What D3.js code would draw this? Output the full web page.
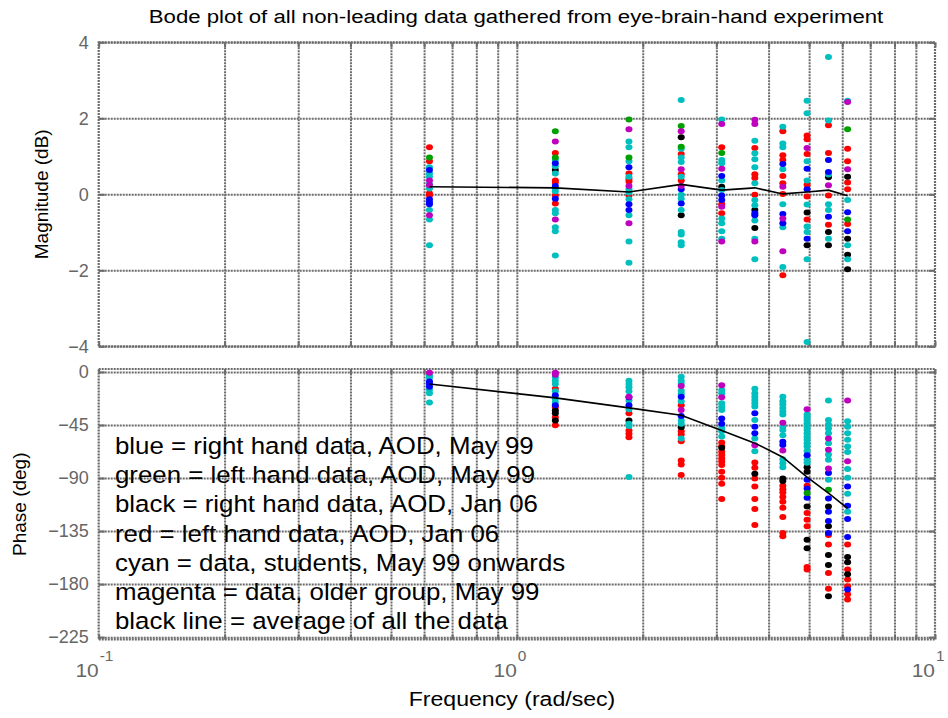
<!DOCTYPE html>
<html><head><meta charset="utf-8">
<script src="https://cdn.jsdelivr.net/npm/d3@7"></script>
<style>body{margin:0;background:#fff}svg{display:block}</style>
</head><body><svg id="c" width="948" height="718"></svg>
<script>
// ---------------- data ----------------
const titleText = "Bode plot of all non-leading data gathered from eye-brain-hand experiment";
const freqs = [0.618, 1.236, 1.854, 2.472, 3.09, 3.708, 4.326, 4.944, 5.562, 6.18];
const avgMag = [0.20, 0.17, 0.06, 0.26, 0.11, 0.17, 0.01, 0.06, 0.11, -0.04];
const avgPhase = [-10.2, -22, -30.5, -36.7, -49.7, -60.4, -72.3, -89.2, -102.8, -115.8];

// magnitude (dB): [frequency index, value]
const blueMag = [[0,0.64],[0,-0.13],[0,-0.20],[0,-0.26],[1,0.82],[1,0.22],[1,-0.12],[2,0.71],[2,-0.26],[2,-0.41],[3,0.13],[3,-0.24],[4,0.48],[4,-0.03],[4,-0.15],[5,-0.50],[5,-0.55],[6,0.80],[6,-0.52],[6,-0.76],[7,0.67],[7,0.13],[7,-1.17],[8,0.90],[8,0.59],[8,-0.59],[9,-0.47],[9,-0.97]];
const greenMag = [[0,0.97],[1,1.66],[1,0.97],[2,1.97],[2,0.97],[3,1.80],[3,1.25],[4,1.09],[9,1.71],[9,-0.66]];
const blackMag = [[1,0.64],[3,1.50],[3,-0.55],[4,0.20],[5,-0.41],[5,-0.89],[7,-0.48],[7,-1.34],[8,0.45],[8,-0.99],[8,-1.34],[9,0.46],[9,-1.17],[9,-1.59],[9,-1.97]];
const redMag = [[0,1.24],[0,0.87],[0,0.03],[0,-0.03],[1,1.09],[1,0.36],[1,0.31],[1,-0.03],[1,-0.24],[2,0.55],[2,0.40],[2,0.34],[2,-0.03],[3,1.06],[3,0.53],[3,0.36],[4,1.24],[4,-0.26],[4,-0.50],[5,1.22],[5,0.53],[5,0.43],[5,-0.01],[6,1.66],[6,1.03],[6,0.90],[6,0.48],[6,0.29],[6,0.01],[6,-2.13],[7,1.55],[7,1.45],[7,1.06],[7,0.25],[7,-0.06],[7,-0.66],[8,1.82],[8,1.09],[8,-0.03],[8,-0.80],[9,1.20],[9,0.87],[9,0.31],[9,0.13],[9,-0.78]];
const cyanMag = [[0,0.71],[0,0.55],[0,0.46],[0,0.27],[0,0.15],[0,-0.41],[0,-0.66],[0,-1.34],[1,0.90],[1,0.74],[1,0.55],[1,0.15],[1,0.08],[1,-0.41],[1,-0.50],[1,-0.87],[1,-0.97],[1,-1.61],[2,1.39],[2,1.24],[2,0.87],[2,0.46],[2,0.13],[2,0.05],[2,-0.13],[2,-0.55],[2,-1.24],[2,-1.80],[3,2.48],[3,1.20],[3,0.97],[3,0.85],[3,0.46],[3,-0.01],[3,-0.12],[3,-0.41],[3,-0.99],[3,-1.06],[3,-1.26],[3,-1.34],[4,1.97],[4,0.90],[4,0.82],[4,0.36],[4,0.11],[4,-0.64],[4,-0.76],[4,-0.97],[4,-1.17],[5,1.41],[5,1.08],[5,0.92],[5,0.71],[5,0.29],[5,-0.15],[5,-0.29],[5,-0.69],[5,-1.17],[5,-1.71],[6,1.78],[6,1.34],[6,1.24],[6,0.66],[6,-0.26],[6,-0.87],[6,-1.91],[7,2.46],[7,2.13],[7,0.87],[7,0.36],[7,-0.27],[7,-0.85],[7,-0.99],[7,-1.71],[7,-3.89],[8,3.61],[8,1.94],[8,0.52],[8,-0.26],[8,-0.41],[8,-1.17],[9,2.46],[9,-0.15],[9,-1.34],[9,-1.71]];
const magentaMag = [[0,0.36],[0,0.24],[0,-0.55],[1,1.39],[1,-0.66],[2,1.71],[2,0.22],[2,-0.76],[3,1.66],[3,0.66],[3,0.22],[4,1.85],[4,0.67],[4,-0.33],[4,-1.24],[5,1.96],[5,1.85],[5,-1.24],[6,0.20],[6,-0.64],[6,-1.50],[7,1.22],[8,0.24],[9,2.43],[9,0.66]];

// phase (deg): [frequency index, value]
const bluePhase = [[0,-8],[0,-10],[0,-12.5],[1,-19.8],[1,-28.3],[2,-21.5],[2,-28.3],[3,-21],[3,-37.3],[4,-39.6],[4,-44],[5,-35],[5,-46.4],[5,-52],[6,-59.3],[6,-62],[7,-70.6],[7,-91.5],[7,-98.8],[7,-106.7],[8,-85.8],[8,-107.3],[8,-118.6],[8,-126.5],[8,-136.7],[9,-97.2],[9,-113.5],[9,-124.8],[9,-140],[9,-184.6]];
const greenPhase = [[7,-102.8],[8,-100]];
const blackPhase = [[1,-32.8],[1,-35],[1,-41.3],[2,-41.3],[3,-46.9],[4,-64.4],[5,-86.4],[6,-90.4],[6,-92.6],[7,-80.8],[7,-84.7],[7,-114.1],[7,-142.3],[7,-149.6],[8,-114.1],[8,-131],[8,-155.3],[8,-163.7],[8,-190.3],[9,-157],[9,-161.5],[9,-171.7]];
const redPhase = [[1,-14.2],[1,-30],[1,-38.4],[1,-45.2],[2,-35],[2,-49.7],[2,-52.5],[2,-55.3],[3,-28.3],[3,-50.3],[3,-53.1],[3,-58.8],[3,-75.2],[3,-78.5],[3,-87.5],[4,-59.9],[4,-63],[4,-67.8],[4,-70.5],[4,-73.4],[4,-76],[4,-79],[4,-84.7],[4,-89.8],[4,-94.9],[4,-107.9],[5,-76.8],[5,-81.3],[5,-90.4],[5,-97.2],[5,-107.8],[5,-116.3],[5,-129.9],[6,-96.6],[6,-99.5],[6,-102.3],[6,-106],[6,-110.2],[6,-115.2],[6,-123.1],[6,-136.7],[6,-139.5],[7,-96.6],[7,-119.7],[7,-125.4],[7,-131],[7,-165.4],[7,-167.7],[8,-138.4],[8,-146.3],[8,-170.5],[8,-184],[9,-146.3],[9,-167.7],[9,-176.2],[9,-181.8],[9,-188.6],[9,-193.1]];
const cyanPhase = [[0,-2.8],[0,-5],[0,-15],[0,-18],[0,-26],[1,-4.5],[1,-7.4],[1,-10.2],[1,-16.4],[1,-22.6],[1,-25.4],[2,-7.4],[2,-10.2],[2,-13],[2,-16.4],[2,-24.3],[2,-31.6],[2,-44],[2,-45.8],[2,-89.2],[3,-4],[3,-7.4],[3,-10],[3,-15.9],[3,-18.5],[3,-24.9],[3,-41.3],[3,-44],[3,-56.5],[4,-15.3],[4,-18],[4,-26.6],[4,-29.5],[4,-32.2],[4,-47.5],[4,-50.3],[4,-54.8],[5,-14.2],[5,-18.1],[5,-21],[5,-23.8],[5,-26.5],[5,-29.4],[5,-40.7],[5,-56.5],[5,-67.2],[6,-21],[6,-24.9],[6,-27.5],[6,-30.5],[6,-33.5],[6,-36.2],[6,-46.5],[6,-49.2],[6,-53.7],[6,-74],[6,-77.5],[6,-80.8],[7,-36.2],[7,-38.5],[7,-40.7],[7,-43.5],[7,-46.4],[7,-49],[7,-52],[7,-55],[7,-57.6],[7,-60.5],[7,-63.3],[7,-67],[7,-74.6],[7,-77],[8,-24.3],[8,-40.7],[8,-44.6],[8,-48],[8,-52],[8,-60.4],[8,-70],[8,-74.6],[8,-91.5],[9,-41.8],[9,-46.4],[9,-52],[9,-57.6],[9,-63.3],[9,-68],[9,-82.4],[9,-89.8],[9,-103.3],[9,-118.6]];
const magentaPhase = [[0,-0.6],[1,-0.6],[1,-2.3],[2,-21],[3,-11.9],[3,-32.2],[4,-11.3],[4,-21.5],[5,-62.1],[6,-43],[6,-66.7],[7,-31.7],[8,-56.5],[8,-66.1],[8,-81.9],[9,-24.3],[9,-75.7]];

const legendLines = [
  "blue = right hand data, AOD, May 99",
  "green = left hand data, AOD, May 99",
  "black = right hand data, AOD, Jan 06",
  "red = left hand data, AOD, Jan 06",
  "cyan = data, students, May 99 onwards",
  "magenta = data, older group, May 99",
  "black line = average of all the data"
];
const magTicks = [-4, -2, 0, 2, 4];
const phaseTicks = [0, -45, -90, -135, -180, -225];
const decadeExps = [-1, 0, 1];
const magLabel = "Magnitude (dB)";
const phaseLabel = "Phase (deg)";
const xLabel = "Frequency  (rad/sec)";

// ---------------- drawing ----------------
const svg = d3.select("#c");
const FONT = "'Liberation Sans', Arial, Helvetica, sans-serif";
const L = 98.7, R = 935;
const magTop = 42.3, magBot = 346.3;
const phTop = 369, phBot = 639.5;
const x = d3.scaleLog().domain([0.1, 10]).range([L, R]);
const yM = d3.scaleLinear().domain([-4, 4]).range([magBot, magTop]);
const yP = d3.scaleLinear().domain([-227, 2.5]).range([phBot, phTop]);

const gridFreqs = [];
[0.1, 1].forEach(d => { for (let k = 1; k <= 9; k++) gridFreqs.push(d * k); });
gridFreqs.push(10);

const GRID = "#6c6c6c";
function styleGrid(g) {
  g.select(".domain").remove();
  g.selectAll("line").attr("stroke", GRID).attr("stroke-width", 2).attr("stroke-dasharray", "2,1");
}
function styleTicks(g) {
  g.select(".domain").remove();
  g.selectAll("line").attr("stroke", GRID).attr("stroke-width", 2);
  g.selectAll("text").remove();
}

function panel(yScale, top, bot, ticks) {
  const g = svg.append("g");
  g.append("g").attr("transform", `translate(0,${bot})`)
    .call(d3.axisBottom(x).tickValues(gridFreqs.filter(f => f > 0.1 && f < 10)).tickSize(-(bot - top)).tickFormat(""))
    .call(styleGrid);
  g.append("g").attr("transform", `translate(${L},0)`)
    .call(d3.axisLeft(yScale).tickValues(ticks).tickSize(-(R - L)).tickFormat(""))
    .call(styleGrid);
  g.append("g").attr("transform", `translate(0,${bot})`)
    .call(d3.axisBottom(x).tickValues(gridFreqs).tickSize(-5)).call(styleTicks);
  g.append("g").attr("transform", `translate(0,${top})`)
    .call(d3.axisTop(x).tickValues(gridFreqs).tickSize(-5)).call(styleTicks);
  g.append("g").attr("transform", `translate(${L},0)`)
    .call(d3.axisLeft(yScale).tickValues(ticks).tickSize(-6)).call(styleTicks);
  g.append("g").attr("transform", `translate(${R},0)`)
    .call(d3.axisRight(yScale).tickValues(ticks).tickSize(-6)).call(styleTicks);
  g.append("rect").attr("x", L).attr("y", top).attr("width", R - L).attr("height", bot - top)
    .attr("fill", "none").attr("stroke", GRID).attr("stroke-width", 2.2).attr("stroke-dasharray", "2,1");
  g.append("g").attr("transform", `translate(${L},0)`)
    .call(d3.axisLeft(yScale).tickValues(ticks).tickSize(0).tickPadding(10).tickFormat(d3.format("d")))
    .call(a => {
      a.select(".domain").remove();
      a.selectAll("text").attr("font-family", FONT).attr("font-size", 18).attr("fill", "#666");
    });
  return g;
}

const gMag = panel(yM, magTop, magBot, magTicks);
const gPh = panel(yP, phTop, phBot, phaseTicks);

const series = [
  {mag: redMag, ph: redPhase, color: "#ff0000"},
  {mag: blackMag, ph: blackPhase, color: "#000000"},
  {mag: cyanMag, ph: cyanPhase, color: "#00bfbf"},
  {mag: blueMag, ph: bluePhase, color: "#0000ff"},
  {mag: greenMag, ph: greenPhase, color: "#00a000"},
  {mag: magentaMag, ph: magentaPhase, color: "#bf00bf"}
];
const RX = 3.5, RY = 3.0;
series.forEach(s => {
  gMag.append("g").selectAll("ellipse").data(s.mag).join("ellipse")
    .attr("cx", d => x(freqs[d[0]])).attr("cy", d => yM(d[1])).attr("rx", RX).attr("ry", RY).attr("fill", s.color);
  gPh.append("g").selectAll("ellipse").data(s.ph).join("ellipse")
    .attr("cx", d => x(freqs[d[0]])).attr("cy", d => yP(d[1])).attr("rx", RX).attr("ry", RY).attr("fill", s.color);
});

gMag.append("path").datum(avgMag.map((v, i) => [freqs[i], v]))
  .attr("d", d3.line().x(d => x(d[0])).y(d => yM(d[1])))
  .attr("fill", "none").attr("stroke", "#000").attr("stroke-width", 1.6);
gPh.append("path").datum(avgPhase.map((v, i) => [freqs[i], v]))
  .attr("d", d3.line().x(d => x(d[0])).y(d => yP(d[1])))
  .attr("fill", "none").attr("stroke", "#000").attr("stroke-width", 1.6);

gPh.append("g").selectAll("text").data(legendLines).join("text")
  .attr("transform", (d, i) => `translate(115,${454 + i * 29.2}) scale(1.1,1)`)
  .attr("font-family", FONT).attr("font-size", 23.5).attr("fill", "#000").text(d => d);

const xl = svg.append("g");
decadeExps.forEach(e => {
  xl.append("text").attr("transform", `translate(${x(Math.pow(10, e))},677) scale(1.1,1)`)
    .attr("font-family", FONT).attr("font-size", 19).attr("fill", "#666").attr("text-anchor", "end").text("10");
  xl.append("text").attr("transform", `translate(${x(Math.pow(10, e)) + 1},661) scale(1.1,1)`)
    .attr("font-family", FONT).attr("font-size", 14).attr("fill", "#666").attr("text-anchor", "start").text(String(e));
});

svg.append("text").attr("transform", "translate(516,23) scale(1.17,1)").attr("text-anchor", "middle")
  .attr("font-family", FONT).attr("font-size", 19).attr("fill", "#000").text(titleText);
svg.append("text").attr("transform", "translate(512,706) scale(1.1,1)").attr("text-anchor", "middle")
  .attr("font-family", FONT).attr("font-size", 21).attr("fill", "#000").text(xLabel);
svg.append("text").attr("transform", `translate(48,${(magTop + magBot) / 2}) rotate(-90)`).attr("text-anchor", "middle")
  .attr("font-family", FONT).attr("font-size", 19).attr("fill", "#000").text(magLabel);
svg.append("text").attr("transform", `translate(26,${(phTop + phBot) / 2}) rotate(-90)`).attr("text-anchor", "middle")
  .attr("font-family", FONT).attr("font-size", 19).attr("fill", "#000").text(phaseLabel);
</script></body></html>
